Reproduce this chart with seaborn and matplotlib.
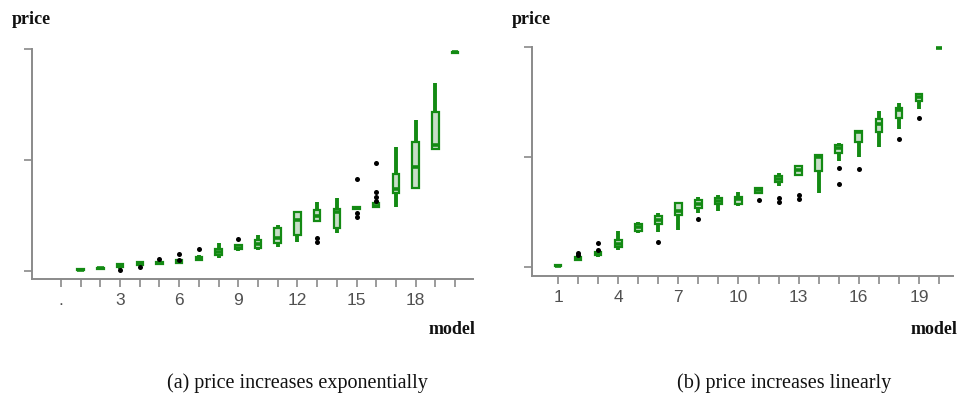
import matplotlib
matplotlib.use("Agg")
import matplotlib.pyplot as plt
import pandas as pd
import seaborn as sns

models = list(range(1, 21))

# (a) exponential: five-number summaries per model
exp_low = [0, 1.5, 2, 5, 5, 6.5, 9, 11.5, 18, 19, 22, 26.5, 45, 34, 55, 56.5, 58, 74.5, 109.5, 196.5]
exp_q1 = [0.5, 2, 4, 5.5, 6, 7, 10, 14.5, 19.5, 21, 25, 32.5, 45.5, 38.5, 55.5, 57.5, 70.5, 74.5, 109.5, 196.8]
exp_med = [1, 2.5, 5, 7, 7, 8, 11, 17, 21, 24, 29.5, 46, 50, 53, 56.5, 59, 74, 94, 113.5, 197]
exp_q3 = [1.5, 3, 6, 8, 8, 10, 13, 20, 23, 28, 39, 53.5, 55, 55.5, 57.5, 61, 87, 116.5, 143, 197.2]
exp_high = [2, 3.5, 7.5, 8.5, 9, 11, 14.5, 25, 24, 32.5, 41.5, 54, 62.5, 65.5, 58, 61.5, 112, 136, 169, 197.5]
exp_out_model = [3, 4, 5, 6, 6, 7, 9, 13, 13, 15, 15, 15, 16, 16, 16, 16]
exp_out_price = [0.9, 4, 10.5, 15, 9.5, 19.5, 28.5, 26, 30, 82.5, 52, 48.5, 97, 71, 67, 63]

# (b) linear
lin_low = [0, 5, 9.5, 15.5, 30.5, 32, 33.5, 49, 50.5, 55, 67, 74, 83.5, 67, 96, 100, 109, 125.5, 143.5, 198.5]
lin_q1 = [0.5, 6, 10.5, 18, 33, 39, 47, 53.5, 57.5, 57, 67.5, 77, 84, 87, 103.5, 114, 123, 135, 150.5, 198.7]
lin_med = [1, 7.5, 12, 21, 36, 43, 51, 57, 60, 62, 70, 80, 88, 100, 108, 122.5, 130, 143, 154.5, 199]
lin_q3 = [1.5, 9.5, 14, 24.5, 39.5, 46.5, 58, 61, 62.5, 64, 71.5, 83, 92, 102, 110.5, 124, 134.5, 144.5, 157.5, 199.2]
lin_high = [2, 10.5, 15, 33, 41, 49, 58.5, 64, 65, 68, 72.5, 85.5, 92.5, 102.5, 113, 124.5, 141.5, 149, 158, 199.5]
lin_out_model = [2, 2, 3, 3, 6, 8, 11, 12, 12, 13, 13, 15, 15, 16, 18, 19]
lin_out_price = [12.5, 10.5, 21.5, 15.5, 22.5, 43.5, 60.5, 63, 59.5, 65.5, 61.5, 90, 75, 89, 116, 135]

GREEN = "#138a13"
FILL = "#c4e2c4"
GRAY = "#8a8a8a"


def long_frame(low, q1, med, q3, high):
    rows = []
    for m, vals in zip(models, zip(low, q1, med, q3, high)):
        for v in vals:
            rows.append({"model": m, "price": v})
    return pd.DataFrame(rows)


def draw_panel(ax, df, out_m, out_p, xlim, ylim, ticks, labels):
    sns.boxplot(data=df, x="model", y="price", native_scale=True, ax=ax,
                whis=(0, 100), width=0.33, showfliers=False, showcaps=False,
                color=FILL, linecolor=GREEN, linewidth=1.6,
                whiskerprops={"linewidth": 2.8}, medianprops={"linewidth": 2.6})
    sns.scatterplot(x=out_m, y=out_p, ax=ax, color="black", marker="o", s=13,
                    linewidth=0, zorder=5)
    ax.set_xlim(*xlim)
    ax.set_ylim(*ylim)
    ax.set_xticks(ticks)
    ax.set_xticklabels(labels)
    ax.set_yticks([0, 100, 200])
    ax.set_yticklabels([])
    ax.set_xlabel("")
    ax.set_ylabel("")
    for s in ["top", "right"]:
        ax.spines[s].set_visible(False)
    for s in ["left", "bottom"]:
        ax.spines[s].set_color(GRAY)
        ax.spines[s].set_linewidth(1.4)
    ax.spines["left"].set_bounds(ylim[0], 200)
    ax.tick_params(axis="both", bottom=True, left=True, direction="out",
                   length=6, width=1.2, color=GRAY,
                   labelcolor="#505050", labelsize=12.5, pad=4)
    for lab in ax.get_xticklabels():
        lab.set_family("Liberation Sans")
    for c in ax.get_children():
        try:
            c.set_clip_on(False)
        except Exception:
            pass


sns.set_style("white")
fig = plt.figure(figsize=(9.59, 4.03), dpi=100)

ax1 = fig.add_axes([32 / 959, 1 - 279 / 403, 441 / 959, 230 / 403])
ticks1 = list(range(0, 21))
labels1 = ["." if k == 0 else (str(k) if k % 3 == 0 and k < 20 else "") for k in ticks1]
draw_panel(ax1, long_frame(exp_low, exp_q1, exp_med, exp_q3, exp_high),
           exp_out_model, exp_out_price, (-1.47, 20.91), (-7.2, 200), ticks1, labels1)

ax2 = fig.add_axes([532 / 959, 1 - 276 / 403, 421 / 959, 229 / 403])
ticks2 = list(range(1, 21))
labels2 = [str(k) if (k - 1) % 3 == 0 else "" for k in ticks2]
draw_panel(ax2, long_frame(lin_low, lin_q1, lin_med, lin_q3, lin_high),
           lin_out_model, lin_out_price, (-0.3, 20.7), (-8.2, 200), ticks2, labels2)

axis_font = {"family": "Liberation Serif", "weight": "bold", "size": 13, "color": "#111111"}
fig.text(12 / 959, 1 - 20 / 403, "price", va="center", ha="left", **axis_font)
fig.text(512 / 959, 1 - 20 / 403, "price", va="center", ha="left", **axis_font)
fig.text(475 / 959, 1 - 329 / 403, "model", va="center", ha="right", **axis_font)
fig.text(957 / 959, 1 - 329 / 403, "model", va="center", ha="right", **axis_font)

cap_font = {"family": "Liberation Serif", "size": 14.5, "color": "#111111"}
fig.text(297 / 959, 1 - 383 / 403, "(a) price increases exponentially", ha="center", va="center", **cap_font)
fig.text(784 / 959, 1 - 383 / 403, "(b) price increases linearly", ha="center", va="center", **cap_font)

fig.savefig("out.png", dpi=100)
